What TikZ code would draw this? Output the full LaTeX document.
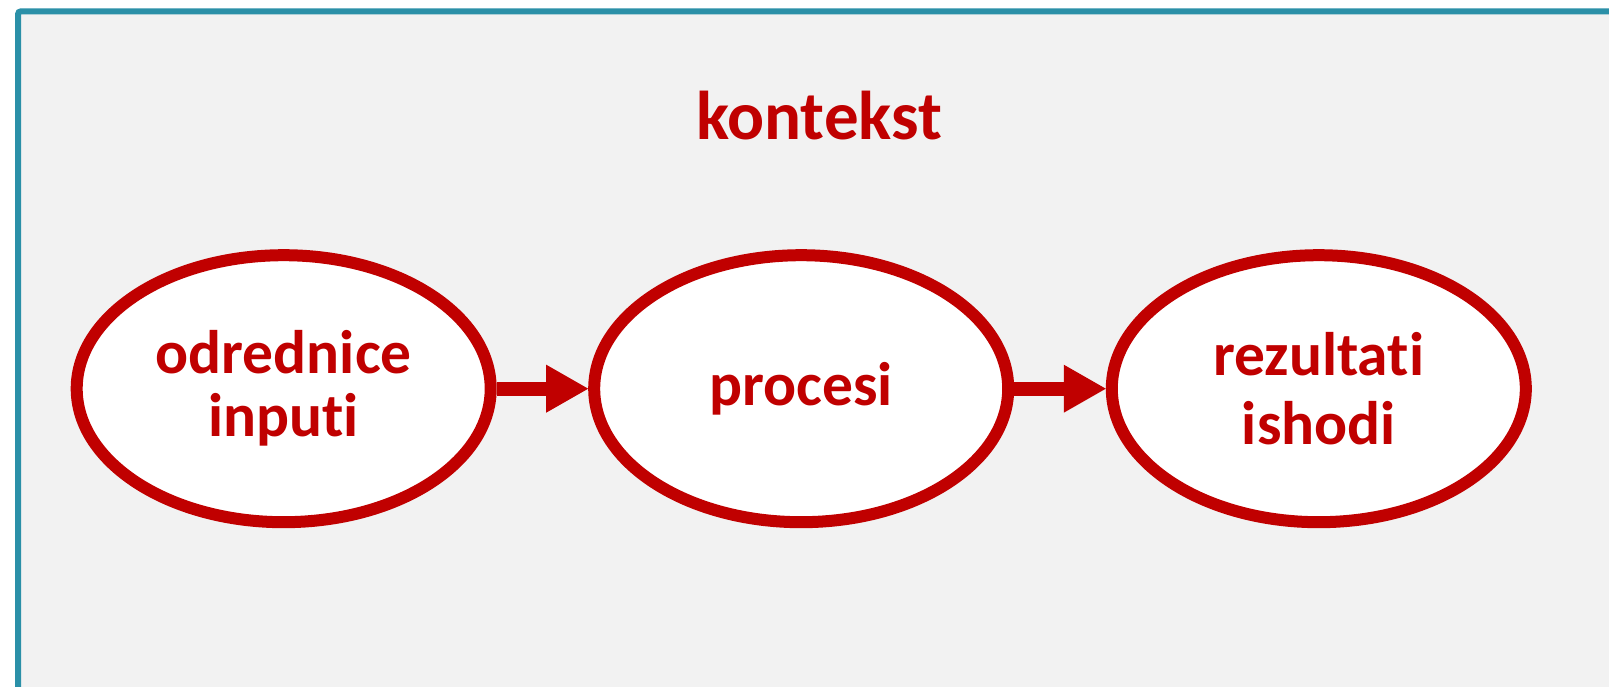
\documentclass[tikz,border=0pt]{standalone}
\usepackage{fontspec}
\setmainfont{Carlito}[Ligatures=NoCommon]
\usetikzlibrary{shapes.geometric,arrows.meta}
\definecolor{dred}{HTML}{C00000}
\definecolor{frameteal}{HTML}{2B90A8}
\definecolor{panelgray}{HTML}{F2F2F2}
\begin{document}
\begin{tikzpicture}[x=1pt,y=-1pt,
  oval/.style={ellipse, draw=dred, fill=white, line width=12pt,
    minimum width=414pt, minimum height=267pt, inner sep=0pt,
    text=dred, align=center},
  ovaltext/.style={font=\fontsize{61.5}{63}\selectfont\bfseries},
  flow/.style={draw=dred, line width=14pt,
    -{Triangle[length=42pt,width=48pt,line width=0pt]}},
  title/.style={text=dred, font=\fontsize{69}{80}\selectfont\bfseries, anchor=base, inner sep=0pt}]
\useasboundingbox (0,0) rectangle (1609,687);
\clip (0,0) rectangle (1609,687);
\fill[white] (0,0) rectangle (1609,687);
\draw[frameteal, line width=6pt, fill=panelgray, rounded corners=3pt] (18,11.3) rectangle (1650,730);
\node[title] (ctx) at (819,140) {kontekst};
\node[oval, ovaltext] (in) at (283.7,388.7) {odrednice\\inputi};
\node[oval, ovaltext] (proc) at (801.2,388.7) {procesi};
\node[oval, font=\fontsize{61.5}{69}\selectfont\bfseries] (out) at (1318.8,388.7) {rezultati\\ishodi};
\draw[flow] (in) -- (proc);
\draw[flow] (proc) -- (out);
\end{tikzpicture}
\end{document}
